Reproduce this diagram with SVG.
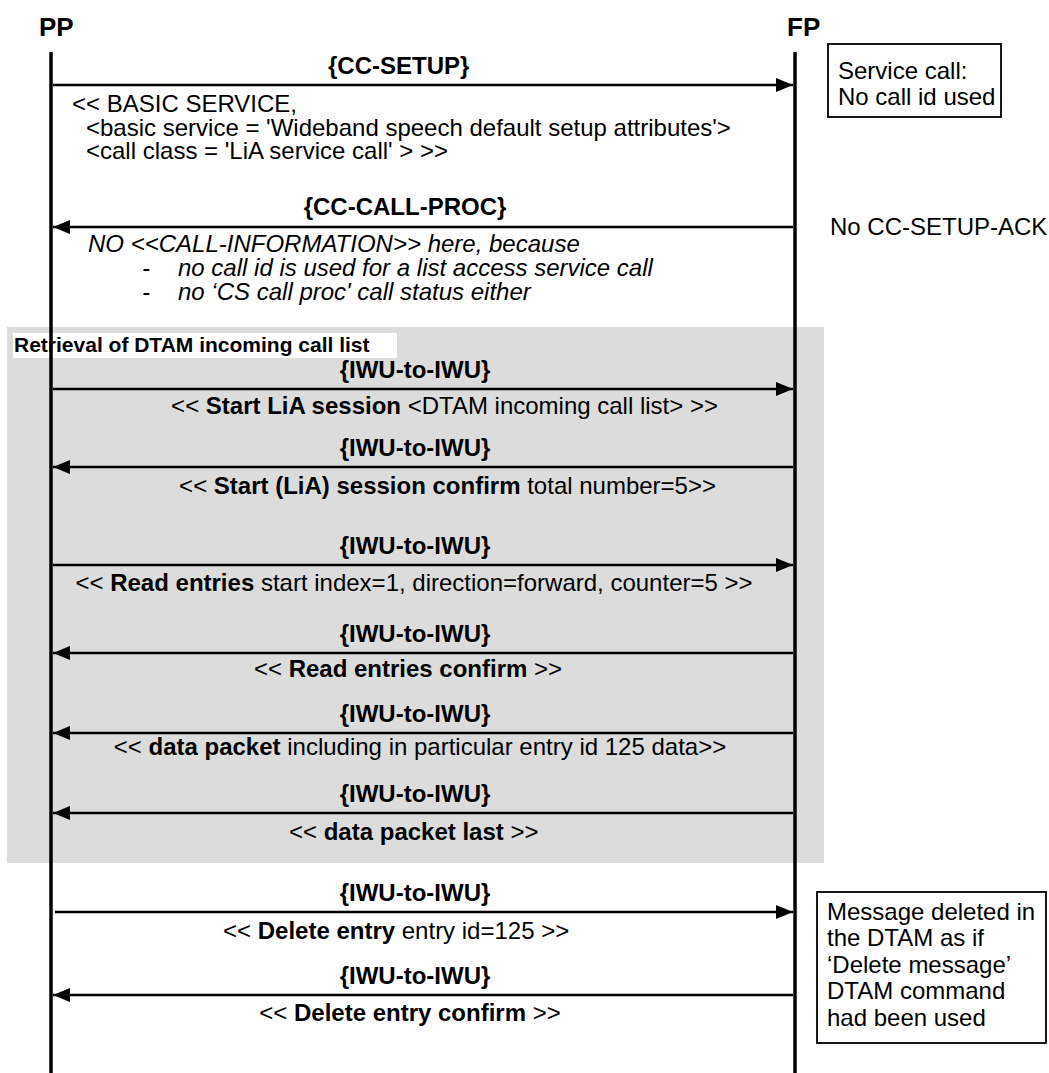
<svg xmlns="http://www.w3.org/2000/svg" width="1049" height="1073" viewBox="0 0 1049 1073">
  <style>
    text { font-family: "Liberation Sans", Arial, sans-serif; font-size: 24px; fill: #000; }
    .b { font-weight: bold; }
    .i { font-style: italic; }
    .m { text-anchor: middle; }
    .e { text-anchor: end; }
    .life { stroke: #000; stroke-width: 3.5; }
    .msg { stroke: #000; stroke-width: 2.5; fill: none; }
    .note { fill: #fff; stroke: #000; stroke-width: 1.8; }
  </style>
  <defs>
    <marker id="ah" viewBox="0 0 17 14" refX="17" refY="7" markerWidth="17" markerHeight="14" markerUnits="userSpaceOnUse" orient="auto">
      <path d="M0,0 L17,7 L0,14 Z" fill="#000"/>
    </marker>
  </defs>

  <rect id="frame" width="1049" height="1073" fill="#fff"/>

  <!-- shaded retrieval block -->
  <g id="retrieval">
    <rect x="7" y="327" width="817" height="536" fill="#dcdcdc"/>
    <rect x="13" y="333" width="384" height="25" fill="#fff"/>
    <text x="14" y="352" class="b" style="font-size:21px">Retrieval of DTAM incoming call list</text>
  </g>

  <!-- lifelines -->
  <g id="pp">
    <text x="39" y="36" class="b" style="font-size:26px">PP</text>
    <line x1="51" y1="52" x2="51" y2="1073" class="life"/>
  </g>
  <g id="fp">
    <text x="787" y="36" class="b" style="font-size:26px">FP</text>
    <line x1="795" y1="52" x2="795" y2="1073" class="life"/>
  </g>

  <!-- messages -->
  <g id="connectors">
    <line x1="53" y1="85" x2="793" y2="85" class="msg" marker-end="url(#ah)"/>
    <line x1="793" y1="227" x2="53" y2="227" class="msg" marker-end="url(#ah)"/>
    <line x1="53" y1="389" x2="793" y2="389" class="msg" marker-end="url(#ah)"/>
    <line x1="793" y1="467" x2="53" y2="467" class="msg" marker-end="url(#ah)"/>
    <line x1="53" y1="565" x2="793" y2="565" class="msg" marker-end="url(#ah)"/>
    <line x1="793" y1="653" x2="53" y2="653" class="msg" marker-end="url(#ah)"/>
    <line x1="793" y1="733" x2="53" y2="733" class="msg" marker-end="url(#ah)"/>
    <line x1="793" y1="813" x2="53" y2="813" class="msg" marker-end="url(#ah)"/>
    <line x1="55" y1="912" x2="793" y2="912" class="msg" marker-end="url(#ah)"/>
    <line x1="793" y1="995" x2="53" y2="995" class="msg" marker-end="url(#ah)"/>
  </g>

  <!-- message labels -->
  <g id="labels">
    <text x="328" y="74" class="b">{CC-SETUP}</text>
    <text x="72" y="112">&lt;&lt; BASIC SERVICE,</text>
    <text x="86" y="136">&lt;basic service = 'Wideband speech default setup attributes'&gt;</text>
    <text x="86" y="159">&lt;call class = 'LiA service call' &gt; &gt;&gt;</text>

    <text x="405" y="215" class="b m">{CC-CALL-PROC}</text>
    <text x="88" y="252" class="i">NO &lt;&lt;CALL-INFORMATION&gt;&gt; here, because</text>
    <text x="142" y="276" class="i">-</text>
    <text x="178" y="276" class="i">no call id is used for a list access service call</text>
    <text x="142" y="300" class="i">-</text>
    <text x="178" y="300" class="i">no ‘CS call proc' call status either</text>

    <text x="415" y="378" class="b m">{IWU-to-IWU}</text>
    <text x="718" y="414" class="e">&lt;&lt; <tspan class="b">Start LiA session</tspan> &lt;DTAM incoming call list&gt; &gt;&gt;</text>

    <text x="415" y="456" class="b m">{IWU-to-IWU}</text>
    <text x="716" y="494" class="e">&lt;&lt; <tspan class="b">Start (LiA) session confirm</tspan> total number=5&gt;&gt;</text>

    <text x="415" y="554" class="b m">{IWU-to-IWU}</text>
    <text x="414" y="591" class="m">&lt;&lt; <tspan class="b">Read entries</tspan> start index=1, direction=forward, counter=5 &gt;&gt;</text>

    <text x="415" y="642" class="b m">{IWU-to-IWU}</text>
    <text x="408" y="677" class="m">&lt;&lt; <tspan class="b">Read entries confirm</tspan> &gt;&gt;</text>

    <text x="415" y="722" class="b m">{IWU-to-IWU}</text>
    <text x="420" y="755" class="m">&lt;&lt; <tspan class="b">data packet</tspan> including in particular entry id 125 data&gt;&gt;</text>

    <text x="415" y="802" class="b m">{IWU-to-IWU}</text>
    <text x="289" y="840">&lt;&lt; <tspan class="b">data packet last</tspan> &gt;&gt;</text>

    <text x="415" y="901" class="b m">{IWU-to-IWU}</text>
    <text x="223" y="939">&lt;&lt; <tspan class="b">Delete entry</tspan> entry id=125 &gt;&gt;</text>

    <text x="415" y="984" class="b m">{IWU-to-IWU}</text>
    <text x="410" y="1021" class="m">&lt;&lt; <tspan class="b">Delete entry confirm</tspan> &gt;&gt;</text>
  </g>

  <!-- side notes -->
  <g id="note-service">
    <rect x="828" y="44" width="173" height="73" class="note"/>
    <text x="838" y="79">Service call:</text>
    <text x="838" y="105">No call id used</text>
  </g>
  <g id="note-ack">
    <text x="830" y="235">No CC-SETUP-ACK</text>
  </g>
  <g id="note-delete">
    <rect x="817" y="892" width="229" height="151" class="note"/>
    <text x="827" y="920">Message deleted in</text>
    <text x="827" y="946">the DTAM as if</text>
    <text x="827" y="973">‘Delete message’</text>
    <text x="827" y="999">DTAM command</text>
    <text x="827" y="1026">had been used</text>
  </g>
</svg>
